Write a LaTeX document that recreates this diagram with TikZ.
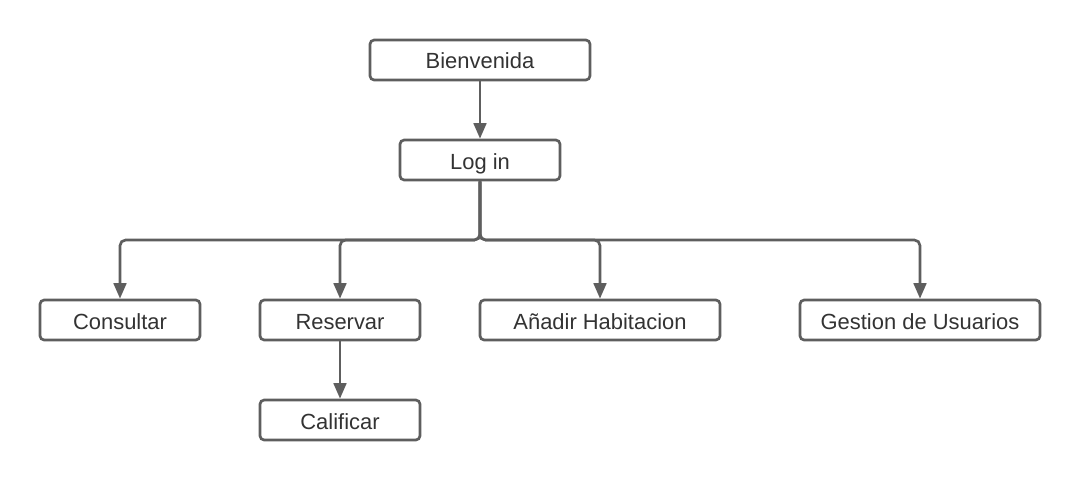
\documentclass[tikz,border=0pt]{standalone}
\usepackage{fontspec}
\setmainfont{Liberation Sans}
\usetikzlibrary{arrows.meta}
\definecolor{linegray}{HTML}{5E5E5E}
\definecolor{textgray}{HTML}{333333}
\tikzset{
	caja/.style={draw=linegray, line width=1.9pt, rounded corners=3pt, fill=white,
		text=textgray, minimum height=1cm, inner sep=0pt,
		text height=12.8pt, text depth=0pt,
		font=\fontsize{15.6}{18}\selectfont},
	flecha/.style={draw=linegray, line width=1.9pt, rounded corners=4pt,
		-{Triangle[width=9pt,length=11pt]}}
}
\begin{document}
\begin{tikzpicture}[x=0.025cm, y=-0.025cm]
			\useasboundingbox (0,0) rectangle (1080,480);
			\node[caja, minimum width=5.5cm] (bien) at (480,60) {Bienvenida};
			\node[caja, minimum width=4cm] (login) at (480,160) {Log in};
			\node[caja, minimum width=4cm] (cons) at (120,320) {Consultar};
			\node[caja, minimum width=4cm] (res) at (340,320) {Reservar};
			\node[caja, minimum width=6cm] (hab) at (600,320) {Añadir Habitacion};
			\node[caja, minimum width=6cm] (gest) at (920,320) {Gestion de Usuarios};
			\node[caja, minimum width=4cm] (cal) at (340,420) {Calificar};
			\coordinate (rama) at (480,240);
			\draw[flecha] (bien) -- (login);
			\draw[flecha] (login) -- (rama) -| (cons);
			\draw[flecha] (login) -- (rama) -| (res);
			\draw[flecha] (login) -- (rama) -| (hab);
			\draw[flecha] (login) -- (rama) -| (gest);
			\draw[flecha] (res) -- (cal);
		\end{tikzpicture}
\end{document}
